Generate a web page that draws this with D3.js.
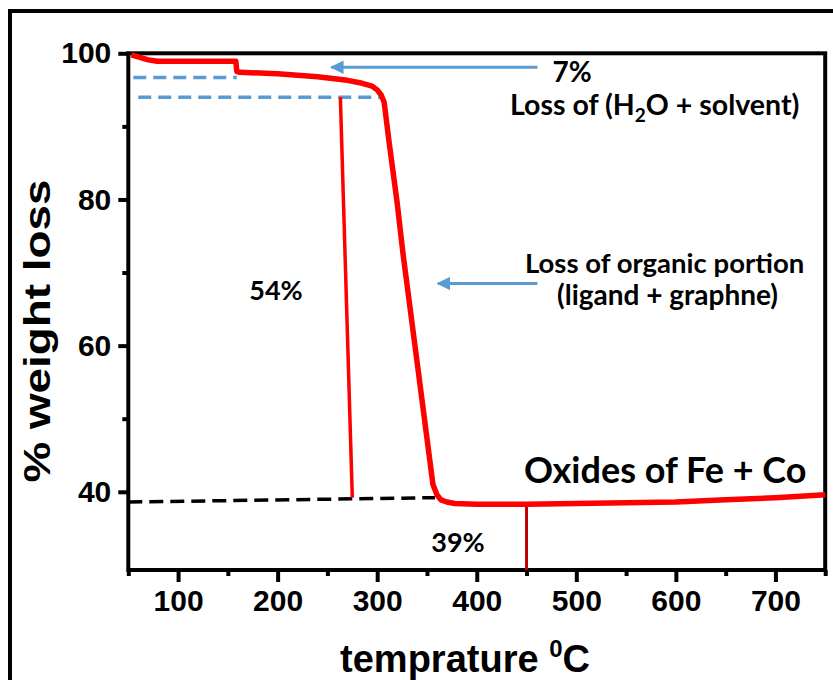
<!DOCTYPE html>
<html>
<head>
<meta charset="utf-8">
<script src="https://cdn.jsdelivr.net/npm/d3@7"></script>
<style>
  body { margin: 0; background: #fff; }
  svg { display: block; }
</style>
</head>
<body>
<div id="chart"></div>
<script>
// TGA curve
const temps   = [53, 60, 70, 79, 100, 130, 158, 159, 162, 200, 240, 270, 285, 295, 300, 304, 307, 312, 320, 326, 341, 356, 360, 364, 370, 378, 400, 450, 500, 550, 600, 650, 700, 750];
const weights = [99.8, 99.5, 99.1, 98.9, 98.9, 98.9, 98.9, 97.5, 97.4, 97.2, 96.8, 96.3, 95.9, 95.5, 95.0, 94.3, 93.3, 87.8, 79.6, 72.5, 56.8, 41.0, 39.6, 38.9, 38.6, 38.4, 38.3, 38.3, 38.4, 38.5, 38.6, 38.9, 39.2, 39.6];

const xMajor = [100, 200, 300, 400, 500, 600, 700];
const xMinor = [50, 150, 250, 350, 450, 550, 650, 750];
const yMajor = [40, 60, 80, 100];
const yMinor = [50, 70, 90];

// guide lines [x1, y1, x2, y2] in data units
const blueDash = [[55, 96.7, 159, 96.7], [60, 94.0, 306, 94.0]];
const blackDash = [[50, 38.6, 358, 39.2]];
const redMarker = [[263, 94.0, 275, 39.2]];
const darkRedMarker = [[450, 38.3, 450, 29.3]];
const arrows = [[461, 98.1, 254, 98.1], [461, 68.5, 361, 68.5]];

const width = 833;
const height = 680;

const svg = d3.select('#chart')
  .append('svg')
  .attr('width', width)
  .attr('height', height);

// outer frame
svg.append('rect')
  .attr('x', 10).attr('y', 11)
  .attr('width', 860).attr('height', 700)
  .attr('fill', 'none')
  .attr('stroke', '#000')
  .attr('stroke-width', 4);

const x = d3.scaleLinear().domain([50, 750]).range([128.3, 825.2]);
const y = d3.scaleLinear().domain([29.3, 100]).range([570, 53.3]);

const tickFont = '"Liberation Sans", Arial, sans-serif';
const noteFont = 'Lato, "Open Sans", sans-serif';

// x axis
const xAxis = svg.append('g')
  .attr('transform', `translate(0,${y(29.3)})`)
  .call(d3.axisBottom(x).tickValues(xMajor).tickSize(12).tickPadding(8).tickFormat(d3.format('d')));
xAxis.select('.domain').remove();
xAxis.selectAll('line').attr('stroke-width', 4);
xAxis.selectAll('text')
  .attr('font-family', tickFont)
  .attr('font-weight', 'bold')
  .attr('font-size', 30)
  .attr('fill', '#000');

const xAxisMinor = svg.append('g')
  .attr('transform', `translate(0,${y(29.3)})`)
  .call(d3.axisBottom(x).tickValues(xMinor).tickSize(6).tickFormat(''));
xAxisMinor.select('.domain').remove();
xAxisMinor.selectAll('line').attr('stroke-width', 4);

// y axis
const yAxis = svg.append('g')
  .attr('transform', `translate(${x(50)},0)`)
  .call(d3.axisLeft(y).tickValues(yMajor).tickSize(10).tickPadding(7).tickFormat(d3.format('d')));
yAxis.select('.domain').remove();
yAxis.selectAll('line').attr('stroke-width', 4);
yAxis.selectAll('text')
  .attr('font-family', tickFont)
  .attr('font-weight', 'bold')
  .attr('font-size', 30)
  .attr('fill', '#000');

const yAxisMinor = svg.append('g')
  .attr('transform', `translate(${x(50)},0)`)
  .call(d3.axisLeft(y).tickValues(yMinor).tickSize(6).tickFormat(''));
yAxisMinor.select('.domain').remove();
yAxisMinor.selectAll('line').attr('stroke-width', 4);

// plot box
svg.append('rect')
  .attr('x', x(50)).attr('y', y(100))
  .attr('width', x(750) - x(50))
  .attr('height', y(29.3) - y(100))
  .attr('fill', 'none')
  .attr('stroke', '#000')
  .attr('stroke-width', 4);

// guides
function segs(list, color, w, dash) {
  svg.append('g').selectAll('line')
    .data(list)
    .join('line')
    .attr('x1', d => x(d[0])).attr('y1', d => y(d[1]))
    .attr('x2', d => x(d[2])).attr('y2', d => y(d[3]))
    .attr('stroke', color)
    .attr('stroke-width', w)
    .attr('stroke-dasharray', dash);
}
segs(blueDash, '#5b9bd5', 3.5, '13 7');
segs(blackDash, '#000', 3.5, '14 7');
segs(redMarker, '#ff0000', 3.5, null);
segs(darkRedMarker, '#c00000', 3, null);

// TGA curve
const line = d3.line().x((d, i) => x(temps[i])).y(d => y(d));
svg.append('path')
  .datum(weights)
  .attr('d', line)
  .attr('fill', 'none')
  .attr('stroke', '#ff0000')
  .attr('stroke-width', 5.5)
  .attr('stroke-linejoin', 'round');

// arrows
svg.append('defs').append('marker')
  .attr('id', 'head')
  .attr('viewBox', '0 0 10 10')
  .attr('refX', 9).attr('refY', 5)
  .attr('markerWidth', 5).attr('markerHeight', 4.5)
  .attr('markerUnits', 'strokeWidth')
  .attr('orient', 'auto')
  .append('path')
  .attr('d', 'M0,0 L10,5 L0,10 Z')
  .attr('fill', '#5b9bd5');

svg.append('g').selectAll('line')
  .data(arrows)
  .join('line')
  .attr('x1', d => x(d[0])).attr('y1', d => y(d[1]))
  .attr('x2', d => x(d[2])).attr('y2', d => y(d[3]))
  .attr('stroke', '#5b9bd5')
  .attr('stroke-width', 3)
  .attr('marker-end', 'url(#head)');

// annotations
function note(tx, ty, size, parts, anchor) {
  const t = svg.append('text')
    .attr('x', tx).attr('y', ty)
    .attr('font-family', noteFont)
    .attr('font-weight', 'bold')
    .attr('font-size', size)
    .attr('text-anchor', anchor || 'start')
    .attr('fill', '#000');
  parts.forEach(p => {
    const s = t.append('tspan').text(p.t);
    if (p.dy) s.attr('dy', p.dy);
    if (p.fs) s.attr('font-size', p.fs);
  });
  return t;
}
note(572, 82, 28, [{ t: '7%' }], 'middle');
note(510, 115, 28.5, [{ t: 'Loss of (H' }, { t: '2', dy: 7, fs: 19 }, { t: 'O + solvent)', dy: -7 }]);
note(525, 273, 27.5, [{ t: 'Loss of organic portion' }]);
note(557, 305, 28, [{ t: '(ligand + graphne)' }]);
note(276, 300, 27, [{ t: '54%' }], 'middle');
note(458, 552, 27, [{ t: '39%' }], 'middle');
note(524, 483, 36, [{ t: 'Oxides of Fe + Co' }]);

// axis titles
svg.append('text')
  .attr('transform', 'translate(50,331) rotate(-90)')
  .attr('text-anchor', 'middle')
  .attr('font-family', tickFont)
  .attr('font-weight', 'bold')
  .attr('font-size', 36)
  .attr('textLength', 303)
  .attr('lengthAdjust', 'spacingAndGlyphs')
  .text('% weight loss');

const xt = svg.append('text')
  .attr('x', 465).attr('y', 672)
  .attr('text-anchor', 'middle')
  .attr('font-family', tickFont)
  .attr('font-weight', 'bold')
  .attr('font-size', 38);
xt.append('tspan').text('temprature ');
xt.append('tspan').attr('dy', -15).attr('font-size', 24).text('0');
xt.append('tspan').attr('dy', 15).text('C');
</script>
</body>
</html>
